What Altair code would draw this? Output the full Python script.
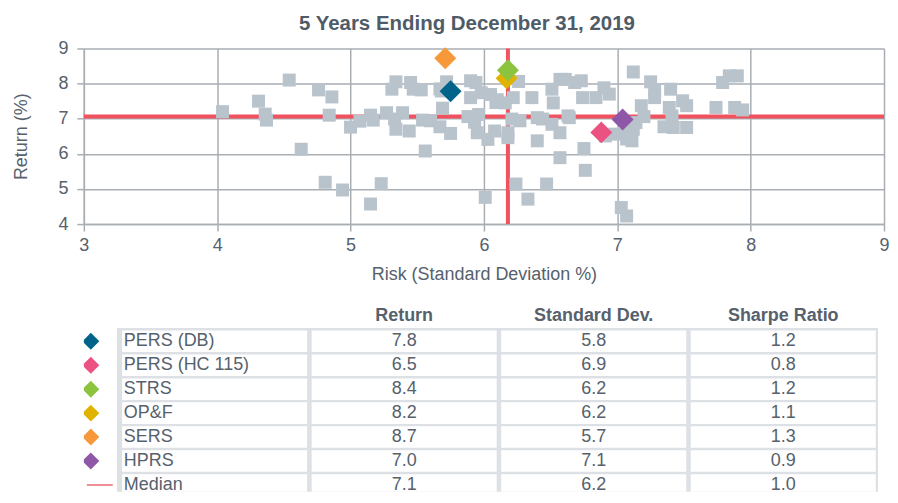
import altair as alt
import pandas as pd

# ---------------- data ----------------
gray_risk = [4.04, 4.31, 4.36, 4.37, 4.54, 4.63, 4.76, 4.86, 4.84, 4.81, 4.94, 5.00, 5.07, 5.15, 5.15, 5.17,
             5.23, 5.27, 5.31, 5.34, 5.33, 5.34, 5.39, 5.44, 5.45, 5.47, 5.53, 5.56, 5.54, 5.60, 5.67, 5.69,
             5.72, 5.75, 5.68, 5.67,
             5.90, 5.94, 5.90, 5.98, 6.05, 6.09, 5.88, 5.93, 5.96, 5.95, 6.03, 6.01,
             6.10, 6.16, 6.22, 6.26, 6.36, 6.51, 6.57, 6.61, 6.52, 6.68, 6.73, 6.74, 6.84, 6.90, 6.94,
             6.21, 6.27, 6.08, 6.18, 6.18, 6.40, 6.44, 6.51, 6.57, 6.63, 6.40, 6.75, 6.76, 6.24, 6.33,
             6.47, 6.57, 6.64,
             6.91, 6.98, 7.07, 7.11, 7.12, 7.07, 7.14, 7.20, 7.18, 7.12, 7.03, 7.07, 7.25, 7.28, 7.28,
             7.40, 7.39, 7.41, 7.35, 7.42, 7.52, 7.49, 7.52, 7.74, 7.79, 7.84, 7.90, 7.88, 7.94]
gray_return = [7.20, 7.50, 7.13, 6.96, 8.10, 6.13, 7.82, 7.62, 7.10, 5.19, 4.97, 6.76, 6.93, 4.57, 7.10, 6.96,
               5.15, 7.17, 7.84, 8.05, 6.99, 6.70, 7.17, 6.65, 8.03, 7.84, 7.82, 6.08, 6.96, 6.94, 6.77, 7.30,
               8.05, 6.58, 7.79, 7.85,
               8.08, 8.03, 7.60, 7.74, 7.69, 7.46, 7.06, 6.90, 7.12, 6.60, 6.41, 4.76,
               7.54, 7.45, 7.60, 8.06, 7.60, 7.84, 8.12, 8.12, 7.45, 8.03, 8.08, 7.60, 7.60, 7.88, 7.70,
               6.99, 6.94, 6.65, 6.60, 6.46, 7.03, 6.99, 6.84, 6.60, 7.08, 6.37, 6.15, 5.53, 5.14, 4.71,
               5.14, 5.89, 7.03,
               6.51, 6.56, 6.42, 6.37, 6.70, 6.60, 6.89, 7.06, 7.37, 8.33, 4.47, 4.23, 8.05, 7.79, 7.60,
               7.84, 7.32, 7.08, 6.77, 6.75, 6.75, 7.51, 7.37, 7.32, 8.03, 8.22, 8.22, 7.32, 7.25]

systems = ["PERS (DB)", "PERS (HC 115)", "STRS", "OP&F", "SERS", "HPRS"]
system_risk = [5.75, 6.88, 6.18, 6.17, 5.71, 7.04]
system_return = [7.78, 6.61, 8.38, 8.15, 8.72, 6.98]
system_colors = ["#00648a", "#eb5282", "#8cc43f", "#dfb300", "#f7993a", "#8e57a8"]
draw_order = [1, 2, 4, 3, 5, 6]

median_risk = 6.18
median_return = 7.06

x_ticks = [3, 4, 5, 6, 7, 8, 9]
y_ticks = [4, 5, 6, 7, 8, 9]

table_names = systems + ["Median"]
table_return = ["7.8", "6.5", "8.4", "8.2", "8.7", "7.0", "7.1"]
table_std = ["5.8", "6.9", "6.2", "6.2", "5.7", "7.1", "6.2"]
table_sharpe = ["1.2", "0.8", "1.2", "1.1", "1.3", "0.9", "1.0"]
table_headers = ["", "Return", "Standard Dev.", "Sharpe Ratio"]

# ---------------- style ----------------
FONT = "Liberation Sans"
TEXT = "#56616c"
GRID = "#a9aeb3"
RED = "#f0525f"
SQUARE = "#b9c3cc"
CELL_BG = "#dde1e6"

# ---------------- scatter ----------------
gray_df = pd.DataFrame({"risk": gray_risk, "ret": gray_return})
sys_df = pd.DataFrame({"name": systems, "risk": system_risk, "ret": system_return,
                       "z": draw_order}).sort_values("z")

xscale = alt.Scale(domain=[x_ticks[0], x_ticks[-1]], nice=False, zero=False)
yscale = alt.Scale(domain=[y_ticks[0], y_ticks[-1]], nice=False, zero=False)
common_axis = dict(grid=True, gridColor=GRID, gridWidth=1.5, domainColor=GRID, domainWidth=1.5,
                   tickColor=GRID, tickWidth=1.5, tickSize=7, labelFontSize=18, labelColor=TEXT,
                   titleFontSize=18, titleFontWeight="normal", titleColor=TEXT, labelFont=FONT,
                   titleFont=FONT, format="d", labelOverlap=False, labelFlush=False)
xaxis = alt.Axis(values=x_ticks, tickCount=len(x_ticks), title="Risk (Standard Deviation %)",
                 labelPadding=6, titlePadding=11, **common_axis)
yaxis = alt.Axis(values=y_ticks, tickCount=len(y_ticks), title="Return (%)",
                 labelPadding=9, titlePadding=27, **common_axis)

X = lambda f: alt.X(f, scale=xscale, axis=xaxis)
Y = lambda f: alt.Y(f, scale=yscale, axis=yaxis)

squares = alt.Chart(gray_df).mark_square(size=169, color=SQUARE, opacity=1).encode(
    x=X("risk:Q"), y=Y("ret:Q"))
hline = alt.Chart(pd.DataFrame({"ret": [median_return]})).mark_rule(color=RED, strokeWidth=4).encode(
    y=Y("ret:Q"))
vline = alt.Chart(pd.DataFrame({"risk": [median_risk]})).mark_rule(color=RED, strokeWidth=4).encode(
    x=X("risk:Q"))
diamonds = alt.Chart(sys_df).mark_point(shape="diamond", filled=True, size=484, opacity=1).encode(
    x=X("risk:Q"), y=Y("ret:Q"),
    color=alt.Color("name:N", scale=alt.Scale(domain=systems, range=system_colors), legend=None),
)

scatter = alt.layer(hline, vline, squares, diamonds).properties(
    width=802, height=176,
    title=alt.TitleParams("5 Years Ending December 31, 2019", fontSize=20.5, fontWeight="bold",
                          color="#4f5b67", font=FONT, dx=-17, offset=5.5),
)

# ---------------- table ----------------
n_rows = len(table_names)
n_cols = 4
ROW_PX = 24
Y_END = 6.78
cells = pd.DataFrame([{"r": r, "c": c, "x1": c + 0.012, "x2": c + 1 - 0.012,
                       "y1": r + 0.05, "y2": r + 0.95} for r in range(n_rows) for c in range(n_cols)])
frame = pd.DataFrame({"x1": [-0.015], "x2": [n_cols + 0.015], "y1": [-0.06], "y2": [n_rows]})

rows = pd.DataFrame({"name": table_names, "ret": table_return, "std": table_std, "sharpe": table_sharpe,
                     "r": [i + 0.5 for i in range(n_rows)]})
headers = pd.DataFrame({"h": table_headers, "x": [c + 0.5 for c in range(n_cols)], "y": [-0.57] * n_cols})

tx = alt.Scale(domain=[-0.19, n_cols], nice=False, zero=False)
ty = alt.Scale(domain=[-1, Y_END], nice=False, zero=False, reverse=True)

bg = alt.Chart(frame).mark_rect(color=CELL_BG, clip=True).encode(
    x=alt.X("x1:Q", scale=tx, axis=None), x2="x2:Q",
    y=alt.Y("y1:Q", scale=ty, axis=None), y2="y2:Q")
white = alt.Chart(cells).mark_rect(color="white", clip=True).encode(
    x=alt.X("x1:Q", scale=tx, axis=None), x2="x2:Q",
    y=alt.Y("y1:Q", scale=ty, axis=None), y2="y2:Q")
name_txt = alt.Chart(rows).mark_text(align="left", baseline="middle", fontSize=18, color=TEXT,
                                     font=FONT, dx=4, clip=True).encode(
    x=alt.datum(0, scale=tx), y=alt.Y("r:Q", scale=ty), text="name:N")


def col_text(field, col):
    return alt.Chart(rows).mark_text(align="center", baseline="middle", fontSize=18, color=TEXT,
                                     font=FONT, clip=True).encode(
        x=alt.datum(col + 0.5, scale=tx), y=alt.Y("r:Q", scale=ty), text=f"{field}:N")


head_txt = alt.Chart(headers).mark_text(align="center", baseline="middle", fontSize=18, color=TEXT,
                                        font=FONT, fontWeight="bold").encode(
    x=alt.X("x:Q", scale=tx), y=alt.Y("y:Q", scale=ty), text="h:N")

legend_df = rows.iloc[:len(systems)].copy()
legend_marks = alt.Chart(legend_df).mark_point(shape="diamond", filled=True, size=289, opacity=1,
                                               clip=True).encode(
    x=alt.value(7), y=alt.Y("r:Q", scale=ty),
    color=alt.Color("name:N", scale=alt.Scale(domain=systems, range=system_colors), legend=None))
legend_median = alt.Chart(rows.iloc[[n_rows - 1]]).mark_rule(color="#ec6a75", strokeWidth=1.5,
                                                             clip=True).encode(
    x=alt.value(3), x2=alt.value(29), y=alt.Y("r:Q", scale=ty))

table = alt.layer(bg, white, name_txt, col_text("ret", 1), col_text("std", 2), col_text("sharpe", 3),
                  head_txt, legend_marks, legend_median).properties(width=796, height=ROW_PX * (Y_END + 1))

chart = alt.vconcat(scatter, table, spacing=21.5).configure(
    font=FONT, padding={"left": 4, "top": 5, "right": 0, "bottom": 0}
).configure_view(stroke=None).resolve_scale(color="independent")

chart.save("out.html", embed_options={"renderer": "svg", "actions": False})
